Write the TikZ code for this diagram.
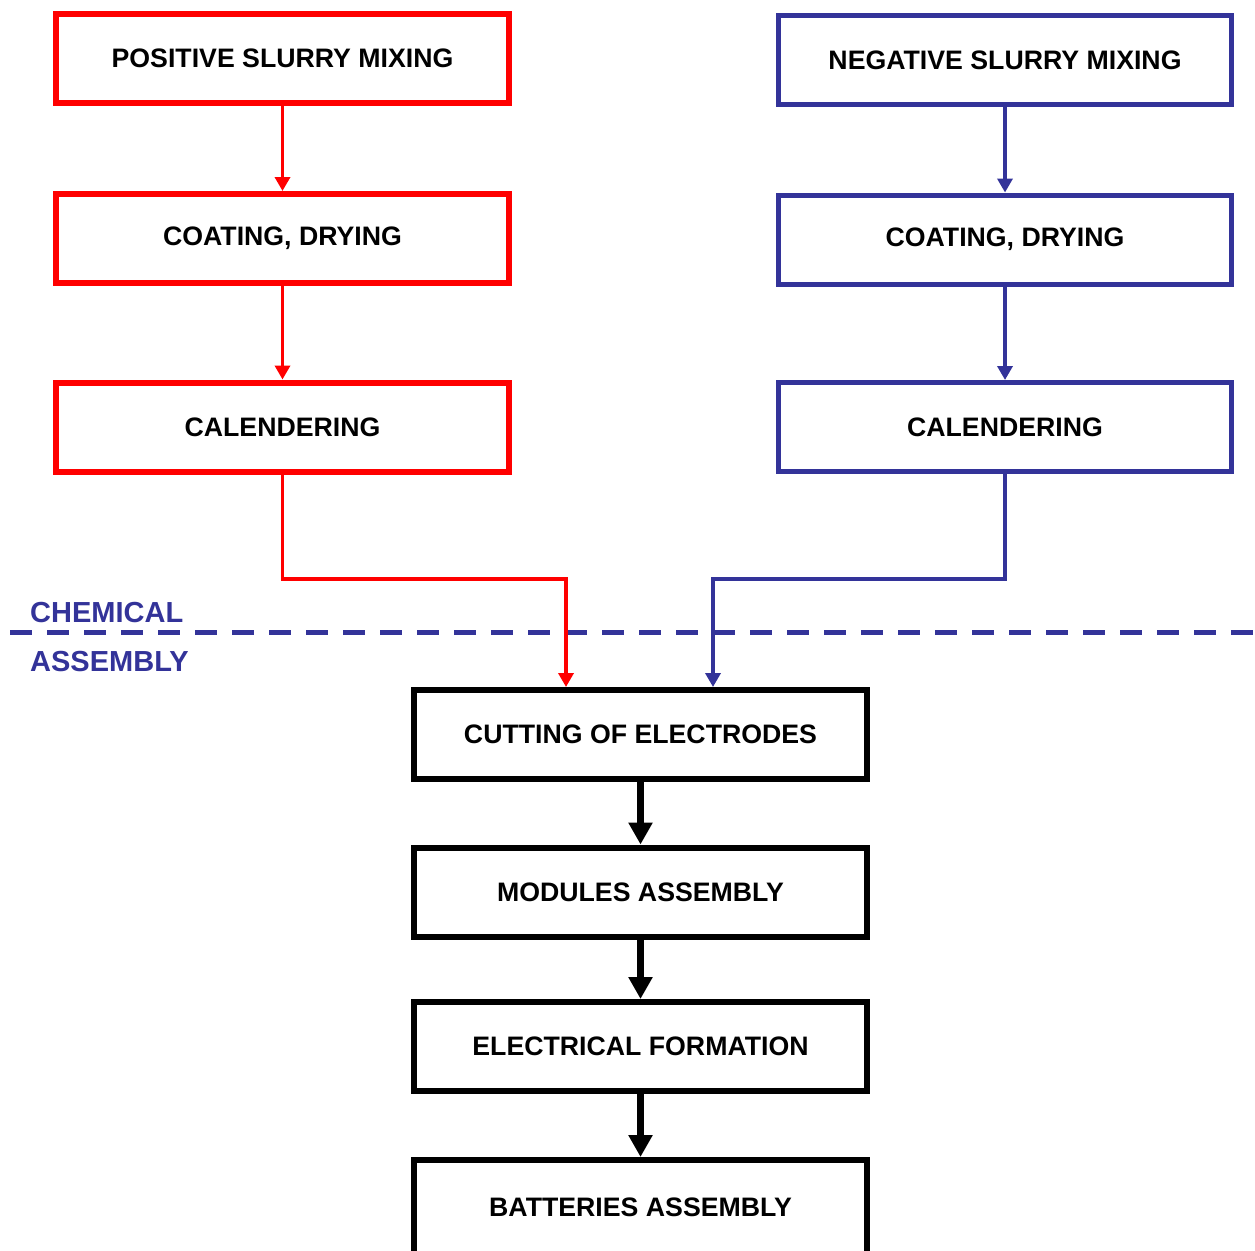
\documentclass[tikz,border=0pt]{standalone}
\usepackage{fontspec}
\setmainfont{Liberation Sans}
\usetikzlibrary{arrows.meta}
\definecolor{posred}{RGB}{255,0,0}
\definecolor{negblue}{RGB}{51,51,153}
\tikzset{
  stepbox/.style={draw, line width=6pt, minimum width=453pt, minimum height=89pt,
    inner sep=0pt, font=\fontsize{26.7}{32}\selectfont\bfseries, fill=white},
  posbox/.style={stepbox, draw=posred},
  negbox/.style={stepbox, draw=negblue, line width=5pt},
  asmbox/.style={stepbox, draw=black},
  posflow/.style={draw=posred, line width=3.5pt, -{Triangle[width=15pt,length=14pt]}},
  negflow/.style={draw=negblue, line width=3.5pt, -{Triangle[width=15pt,length=14pt]}},
  asmflow/.style={draw=black, line width=7pt, -{Triangle[width=23pt,length=22pt]}},
  zonelabel/.style={anchor=base west, text=negblue, inner sep=0pt,
    font=\fontsize{29}{34}\selectfont\bfseries},
}
\begin{document}
\begin{tikzpicture}[x=1pt,y=-1pt]
\useasboundingbox (0,0) rectangle (1255,1250);
\begin{scope}
\clip (0,0) rectangle (1255,1250);

% positive electrode line
\node[posbox] (p1) at (282.5,58.75) {POSITIVE SLURRY MIXING};
\node[posbox] (p2) at (282.5,238.5) {COATING, DRYING};
\node[posbox] (p3) at (282.5,427) {CALENDERING};

% negative electrode line
\node[negbox] (n1) at (1005,60) {NEGATIVE SLURRY MIXING};
\node[negbox] (n2) at (1005,239.5) {COATING, DRYING};
\node[negbox] (n3) at (1005,427) {CALENDERING};

% assembly line
\node[asmbox] (a1) at (640.5,734.5) {CUTTING OF ELECTRODES};
\node[asmbox] (a2) at (640.5,892) {MODULES ASSEMBLY};
\node[asmbox] (a3) at (640.5,1046.5) {ELECTRICAL FORMATION};
\node[asmbox, minimum height=95pt] (a4) at (640.5,1207.5) {BATTERIES ASSEMBLY};

% boundary between chemical and assembly stages
\coordinate (dl) at (10,632);
\coordinate (dr) at (1255,632);
\draw[negblue, line width=5pt, dash pattern=on 22pt off 15pt] (dl) -- (dr);
\node[zonelabel] (chem) at (30,622) {CHEMICAL};
\node[zonelabel] (asm) at (30,671) {ASSEMBLY};

% flows
\draw[posflow] (p1) -- (p2);
\draw[posflow] (p2) -- (p3);
\draw[negflow] (n1) -- (n2);
\draw[negflow] (n2) -- (n3);

\coordinate (pk) at (566,579);
\coordinate (nk) at (713,579);
\draw[posflow] (p3.south) |- (pk) -- (a1.north -| pk);
\draw[negflow] (n3.south) |- (nk) -- (a1.north -| nk);

\draw[asmflow] (a1) -- (a2);
\draw[asmflow] (a2) -- (a3);
\draw[asmflow] (a3) -- (a4);
\end{scope}
\end{tikzpicture}
\end{document}
